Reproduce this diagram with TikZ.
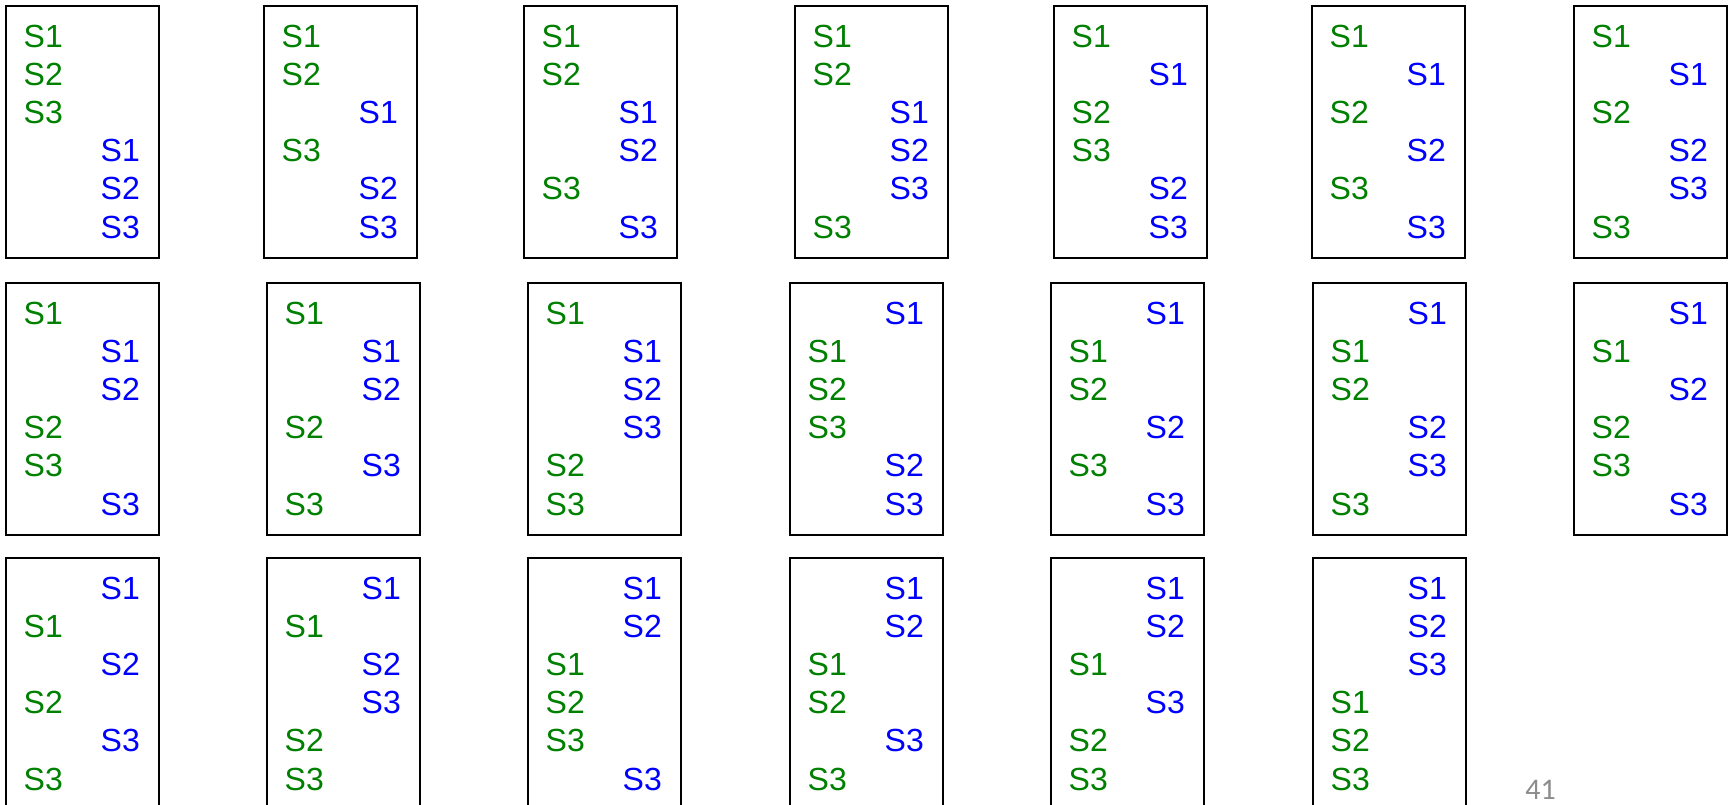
\documentclass[tikz,border=0pt]{standalone}
\usepackage{fontspec}
\setmainfont{Liberation Sans}
\newfontfamily\numfont{Carlito}
\definecolor{sgreen}{RGB}{0,128,0}
\definecolor{sblue}{RGB}{0,0,255}
\definecolor{pgray}{RGB}{140,140,140}
\tikzset{
  frame/.style={draw=black, line width=1.8pt, minimum width=153pt, minimum height=252pt, anchor=north west, inner sep=0pt},
  lbl/.style={anchor=west, inner sep=0pt, font=\fontsize{32}{38}\selectfont},
  gtext/.style={lbl, text=sgreen},
  btext/.style={lbl, text=sblue},
  pagenum/.style={text=pgray, inner sep=0pt, font=\numfont\fontsize{30}{36}\selectfont}
}
\newcommand\panel[5]{%
  \node[frame] (#1) at (#2,#3) {};
  \foreach \s [count=\i] in {#4}
    \node[gtext] (#1-g\i) at (#2+18.5, #3+31.7+38.06*\s) {S\i};
  \foreach \s [count=\i] in {#5}
    \node[btext] (#1-b\i) at (#2+95.5, #3+31.7+38.06*\s) {S\i};
}
\begin{document}
\begin{tikzpicture}[x=1pt,y=-1pt]
\useasboundingbox (0,0) rectangle (1730,805);
\fill[white] (0,0) rectangle (1730,805);
% row 1
\panel{A1}{5}{5}{0,1,2}{3,4,5}
\panel{A2}{263}{5}{0,1,3}{2,4,5}
\panel{A3}{523}{5}{0,1,4}{2,3,5}
\panel{A4}{794}{5}{0,1,5}{2,3,4}
\panel{A5}{1053}{5}{0,2,3}{1,4,5}
\panel{A6}{1311}{5}{0,2,4}{1,3,5}
\panel{A7}{1573}{5}{0,2,5}{1,3,4}
% row 2
\panel{B1}{5}{282}{0,3,4}{1,2,5}
\panel{B2}{266}{282}{0,3,5}{1,2,4}
\panel{B3}{527}{282}{0,4,5}{1,2,3}
\panel{B4}{789}{282}{1,2,3}{0,4,5}
\panel{B5}{1050}{282}{1,2,4}{0,3,5}
\panel{B6}{1312}{282}{1,2,5}{0,3,4}
\panel{B7}{1573}{282}{1,3,4}{0,2,5}
% row 3
\panel{C1}{5}{557}{1,3,5}{0,2,4}
\panel{C2}{266}{557}{1,4,5}{0,2,3}
\panel{C3}{527}{557}{2,3,4}{0,1,5}
\panel{C4}{789}{557}{2,3,5}{0,1,4}
\panel{C5}{1050}{557}{2,4,5}{0,1,3}
\panel{C6}{1312}{557}{3,4,5}{0,1,2}
\node[pagenum] (pg) at (1540.5,790) {41};
\end{tikzpicture}
\end{document}
